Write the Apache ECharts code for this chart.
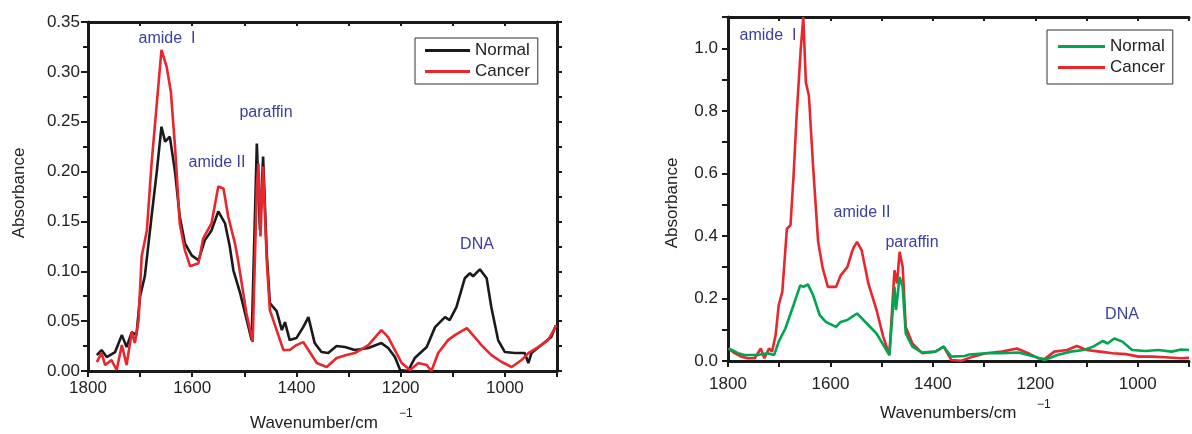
<!DOCTYPE html>
<html>
<head>
<meta charset="utf-8">
<script src="https://cdn.jsdelivr.net/npm/echarts@6/dist/echarts.min.js"></script>
<style>
html,body{margin:0;padding:0;background:#fff;}
#chart{width:1192px;height:434px;}
</style>
</head>
<body>
<div id="chart"></div>
<script>
// ---- Data: [wavenumber (cm^-1), absorbance] ----
const leftNormal = [
  [1783,0.016],[1774,0.021],[1764,0.014],[1748,0.019],[1735,0.036],[1726,0.024],[1716,0.039],[1707,0.036],
  [1700,0.075],[1691,0.095],[1678,0.155],[1668,0.200],[1659,0.245],[1652,0.230],[1643,0.235],[1633,0.200],
  [1624,0.155],[1614,0.128],[1601,0.116],[1588,0.111],[1576,0.131],[1563,0.141],[1550,0.160],[1537,0.148],
  [1528,0.125],[1521,0.101],[1508,0.078],[1492,0.044],[1486,0.031],[1476,0.228],[1470,0.141],[1464,0.215],
  [1457,0.118],[1451,0.068],[1438,0.060],[1428,0.041],[1422,0.049],[1413,0.031],[1400,0.033],[1387,0.044],
  [1377,0.054],[1365,0.028],[1352,0.019],[1339,0.018],[1323,0.025],[1307,0.024],[1288,0.021],[1262,0.023],
  [1237,0.028],[1224,0.023],[1211,0.014],[1201,0.001],[1186,0.000],[1173,0.013],[1150,0.024],[1134,0.044],
  [1115,0.054],[1106,0.051],[1093,0.064],[1077,0.093],[1067,0.098],[1061,0.095],[1048,0.102],[1035,0.093],
  [1026,0.064],[1013,0.031],[1000,0.019],[981,0.018],[962,0.018],[955,0.008],[949,0.018],[930,0.026],
  [911,0.034],[902,0.046]
];
const leftCancer = [
  [1783,0.009],[1774,0.018],[1767,0.006],[1755,0.011],[1745,0.001],[1735,0.026],[1726,0.006],[1716,0.039],
  [1710,0.028],[1703,0.051],[1697,0.115],[1687,0.141],[1678,0.208],[1668,0.268],[1659,0.322],[1649,0.305],
  [1641,0.280],[1633,0.225],[1624,0.148],[1614,0.121],[1604,0.105],[1588,0.108],[1579,0.133],[1563,0.148],
  [1550,0.185],[1540,0.183],[1531,0.155],[1518,0.128],[1512,0.111],[1496,0.058],[1484,0.029],[1476,0.185],
  [1473,0.208],[1469,0.135],[1464,0.205],[1457,0.111],[1451,0.061],[1438,0.041],[1425,0.021],[1413,0.021],
  [1400,0.026],[1387,0.029],[1377,0.021],[1361,0.008],[1342,0.004],[1323,0.013],[1304,0.016],[1288,0.018],
  [1262,0.026],[1237,0.041],[1224,0.034],[1211,0.021],[1198,0.008],[1182,0.001],[1166,0.008],[1150,0.006],
  [1141,0.000],[1128,0.018],[1109,0.031],[1096,0.036],[1073,0.043],[1058,0.034],[1045,0.026],[1026,0.016],
  [1006,0.009],[987,0.004],[968,0.011],[955,0.018],[936,0.024],[917,0.031],[901,0.046]
];
const rightNormal = [
  [1799,0.040],[1780,0.025],[1768,0.019],[1742,0.019],[1723,0.025],[1710,0.019],[1701,0.062],[1688,0.104],
  [1672,0.179],[1659,0.242],[1653,0.237],[1644,0.245],[1634,0.211],[1621,0.147],[1609,0.125],[1589,0.109],
  [1580,0.125],[1567,0.131],[1558,0.141],[1548,0.152],[1529,0.120],[1510,0.088],[1485,0.019],[1475,0.237],
  [1472,0.163],[1465,0.269],[1459,0.237],[1453,0.088],[1440,0.046],[1421,0.027],[1395,0.030],[1379,0.046],
  [1364,0.014],[1338,0.016],[1329,0.021],[1297,0.025],[1265,0.025],[1233,0.027],[1201,0.014],[1182,0.003],
  [1157,0.019],[1131,0.030],[1106,0.035],[1087,0.046],[1068,0.064],[1059,0.056],[1046,0.072],[1030,0.062],
  [1011,0.035],[985,0.032],[960,0.035],[934,0.030],[915,0.037],[900,0.035]
];
const rightCancer = [
  [1799,0.040],[1787,0.025],[1774,0.014],[1761,0.009],[1748,0.009],[1736,0.040],[1729,0.009],[1720,0.040],
  [1714,0.030],[1707,0.083],[1701,0.179],[1694,0.221],[1685,0.423],[1678,0.434],[1672,0.593],[1666,0.785],
  [1658,0.997],[1653,1.100],[1648,0.891],[1642,0.848],[1634,0.625],[1624,0.381],[1615,0.296],[1605,0.237],
  [1589,0.237],[1580,0.274],[1567,0.300],[1558,0.349],[1554,0.365],[1548,0.381],[1539,0.354],[1526,0.248],
  [1510,0.163],[1497,0.078],[1485,0.019],[1475,0.290],[1470,0.248],[1465,0.349],[1459,0.301],[1453,0.109],
  [1440,0.056],[1421,0.025],[1395,0.030],[1379,0.046],[1364,0.003],[1344,0.001],[1322,0.014],[1297,0.025],
  [1265,0.030],[1236,0.040],[1214,0.025],[1195,0.009],[1182,0.006],[1163,0.030],[1138,0.035],[1119,0.048],
  [1100,0.035],[1074,0.030],[1049,0.025],[1023,0.022],[998,0.014],[972,0.014],[947,0.012],[915,0.009],[900,0.010]
];
const seriesNames = ['Normal', 'Cancer'];
const leftXLabel = 'Wavenumber/cm';
const rightXLabel = 'Wavenumbers/cm';
const yLabel = 'Absorbance';
const leftNotes = [['amide  I',167,39],['amide II',217,163],['paraffin',266,113],['DNA',477,245]];
const rightNotes = [['amide  I',768,36],['amide II',862,213],['paraffin',912,243],['DNA',1122,315]];

const FONT = '"Liberation Sans", Arial, Helvetica, sans-serif';
const RED = '#e8262d', BLACK = '#1a1a1a', GREEN = '#00a551', NOTE = '#3a3e9c', AX = '#1a1a1a';

function xAxisBottom(grid, margin) {
  return {
    type: 'value', gridIndex: grid, position: 'bottom', min: 900, max: 1800, interval: 100, inverse: true,
    axisLine: {show: true, onZero: false, lineStyle: {color: AX, width: 3}},
    axisTick: {show: true, inside: false, length: 6, lineStyle: {color: AX, width: 2}},
    axisLabel: {show: true, margin: margin, fontFamily: FONT, fontSize: 17, color: '#222',
      formatter: v => (Math.round(v) % 200 === 0 ? String(Math.round(v)) : '')},
    splitLine: {show: false}
  };
}
function xAxisTop(grid) {
  return {
    type: 'value', gridIndex: grid, position: 'top', min: 900, max: 1800, interval: 100, inverse: true,
    axisLine: {show: true, onZero: false, lineStyle: {color: AX, width: 3}},
    axisTick: {show: true, inside: true, length: 4, lineStyle: {color: AX, width: 2}},
    axisLabel: {show: false}, splitLine: {show: false}
  };
}

const option = {
  animation: false,
  backgroundColor: '#fff',
  textStyle: {fontFamily: FONT},
  grid: [
    {left: 88, top: 22, width: 469, height: 349},
    {left: 728, top: 17, width: 472, height: 344}
  ],
  xAxis: [xAxisBottom(0, 9), xAxisTop(0), xAxisBottom(1, 15), xAxisTop(1)],
  yAxis: [
    {type: 'value', gridIndex: 0, position: 'left', min: 0, max: 0.35, interval: 0.05,
      axisLine: {show: true, onZero: false, lineStyle: {color: AX, width: 3}},
      axisTick: {show: true, length: 7, lineStyle: {color: AX, width: 2}},
      minorTick: {show: true, splitNumber: 2, length: 5, lineStyle: {color: AX, width: 2}},
      axisLabel: {margin: 8, fontFamily: FONT, fontSize: 17, color: '#222', formatter: v => v.toFixed(2)},
      splitLine: {show: false}},
    {type: 'value', gridIndex: 0, position: 'right', min: 0, max: 0.35, interval: 0.025,
      axisLine: {show: true, onZero: false, lineStyle: {color: AX, width: 3}},
      axisTick: {show: true, length: 5, lineStyle: {color: AX, width: 2}},
      axisLabel: {show: false}, splitLine: {show: false}},
    {type: 'value', gridIndex: 1, position: 'left', min: 0, max: 1.1, interval: 0.1,
      axisLine: {show: true, onZero: false, lineStyle: {color: AX, width: 3}},
      axisTick: {show: true, length: 6, lineStyle: {color: AX, width: 2}},
      axisLabel: {margin: 10, fontFamily: FONT, fontSize: 17, color: '#222',
        formatter: v => (Math.round(v * 10) % 2 === 0 ? v.toFixed(1) : '')},
      splitLine: {show: false}}
  ],
  legend: [
    {orient: 'vertical', left: 415, top: 38, padding: [4, 8, 4, 10], itemGap: 4,
      borderColor: '#333', borderWidth: 1, icon: 'rect', itemWidth: 45, itemHeight: 3,
      selectedMode: false, textStyle: {fontFamily: FONT, fontSize: 17, color: '#222'},
      data: [{name: seriesNames[0], itemStyle: {color: BLACK}}, {name: seriesNames[1], itemStyle: {color: RED}}]},
    {orient: 'vertical', left: 1047, top: 30, padding: [8, 8, 8, 11], itemGap: 4,
      borderColor: '#333', borderWidth: 1, icon: 'rect', itemWidth: 47, itemHeight: 3,
      selectedMode: false, textStyle: {fontFamily: FONT, fontSize: 17, color: '#222'},
      data: [{name: seriesNames[0], itemStyle: {color: GREEN}}, {name: seriesNames[1], itemStyle: {color: RED}}]}
  ],
  series: [
    {name: seriesNames[0], type: 'line', xAxisIndex: 0, yAxisIndex: 0, data: leftNormal, symbol: 'none',
      lineStyle: {color: BLACK, width: 2.6}, itemStyle: {color: BLACK}, z: 2},
    {name: seriesNames[1], type: 'line', xAxisIndex: 0, yAxisIndex: 0, data: leftCancer, symbol: 'none',
      lineStyle: {color: RED, width: 2.6}, itemStyle: {color: RED}, z: 3},
    {name: seriesNames[0], type: 'line', xAxisIndex: 2, yAxisIndex: 2, data: rightNormal, symbol: 'none',
      lineStyle: {color: GREEN, width: 2.6}, itemStyle: {color: GREEN}, z: 3},
    {name: seriesNames[1], type: 'line', xAxisIndex: 2, yAxisIndex: 2, data: rightCancer, symbol: 'none',
      lineStyle: {color: RED, width: 2.6}, itemStyle: {color: RED}, z: 2}
  ],
  graphic: []
};

function txt(text, x, y, opts) {
  return Object.assign({
    type: 'text', x: x, y: y, silent: true,
    style: Object.assign({text: text, fill: '#222', font: '17px ' + FONT,
      textAlign: 'center', textVerticalAlign: 'middle', align: 'center', verticalAlign: 'middle'}, opts || {})
  });
}
leftNotes.concat(rightNotes).forEach(n => option.graphic.push(txt(n[0], n[1], n[2], {fill: NOTE, font: '16px ' + FONT})));
option.graphic.push(txt(leftXLabel, 250, 423, {textAlign: 'left', align: 'left'}));
option.graphic.push(txt('\u22121', 399, 414, {textAlign: 'left', align: 'left', font: '12px ' + FONT}));
option.graphic.push(txt(rightXLabel, 880, 413, {textAlign: 'left', align: 'left'}));
option.graphic.push(txt('\u22121', 1037, 405, {textAlign: 'left', align: 'left', font: '12px ' + FONT}));
const yl1 = txt(yLabel, 19, 193); yl1.rotation = Math.PI / 2; option.graphic.push(yl1);
const yl2 = txt(yLabel, 672, 203); yl2.rotation = Math.PI / 2; option.graphic.push(yl2);

const chart = echarts.init(document.getElementById('chart'), null, {renderer: 'canvas'});
chart.setOption(option);
</script>
</body>
</html>
